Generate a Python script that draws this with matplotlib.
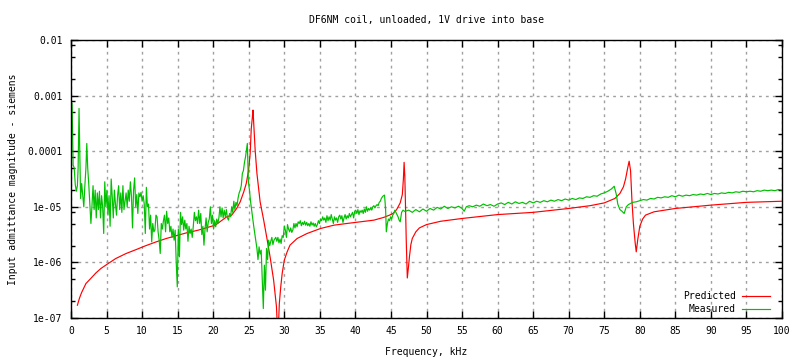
import matplotlib
matplotlib.use("Agg")
import matplotlib.pyplot as plt
import numpy as np
from matplotlib.ticker import LogLocator, NullFormatter, FixedLocator

# predicted admittance: frequency (kHz), log10(siemens)
pred_f = [0.9, 1.2, 1.5, 1.8, 2.1, 2.7, 3.5, 4.2, 5.0, 6.3, 7.75, 9.15, 10.5, 12.0,
          13.4, 14.8, 16.2, 17.9, 20.3, 21.9, 22.6, 23.3, 23.8, 24.3, 24.65, 24.98,
          25.2, 25.35, 25.5, 25.6, 25.7, 25.9, 26.15, 26.6, 27.1, 27.6, 28.0, 28.5,
          28.9, 29.1, 29.3, 29.5, 29.7, 30.0, 30.4, 30.8, 31.8, 33.2, 35.1, 37.0,
          38.8, 40.7, 42.6, 44.0, 44.8, 45.3, 45.8, 46.3, 46.6, 46.75, 46.85, 46.95,
          47.05, 47.15, 47.3, 47.45, 47.6, 47.8, 48.0, 48.5, 49.0, 50.0, 52.0, 55.0,
          60.0, 65.0, 70.0, 73.0, 75.0, 76.5, 77.2, 77.7, 78.0, 78.3, 78.5, 78.7,
          78.9, 79.1, 79.35, 79.5, 79.7, 80.0, 80.4, 80.8, 82.0, 85.0, 90.0, 95.0, 100.0]
pred_log = [-6.77, -6.64, -6.54, -6.46, -6.38, -6.30, -6.19, -6.11, -6.04, -5.93, -5.84,
            -5.77, -5.70, -5.63, -5.57, -5.52, -5.47, -5.42, -5.33, -5.18, -5.15, -5.03,
            -4.91, -4.73, -4.58, -4.34, -4.04, -3.60, -3.40, -3.26, -3.50, -3.98, -4.40,
            -4.91, -5.24, -5.60, -5.90, -6.32, -6.80, -7.40, -6.74, -6.44, -6.20, -5.96,
            -5.81, -5.69, -5.57, -5.48, -5.39, -5.33, -5.30, -5.27, -5.24, -5.19, -5.15,
            -5.12, -5.05, -4.93, -4.78, -4.50, -4.20, -4.45, -5.00, -5.60, -6.28, -6.10,
            -5.90, -5.68, -5.57, -5.45, -5.38, -5.32, -5.26, -5.21, -5.14, -5.10, -5.03,
            -4.98, -4.93, -4.85, -4.76, -4.64, -4.50, -4.30, -4.18, -4.35, -4.90, -5.30,
            -5.65, -5.81, -5.60, -5.35, -5.22, -5.15, -5.09, -5.03, -4.97, -4.92, -4.90]

# measured admittance: frequency (kHz), log10(siemens)
meas_f = [0.15, 0.3, 0.45, 0.6, 0.75, 0.9, 1.0, 1.13, 1.25, 1.35, 1.5, 1.65, 1.8,
          1.95, 2.1, 2.22, 2.35, 2.5, 2.65, 2.8, 2.95, 3.1, 3.25, 3.4, 3.55, 3.7, 3.85,
          4.0, 4.15, 4.3, 4.45, 4.6, 4.75, 4.9, 5.05, 5.2, 5.35, 5.5, 5.65, 5.8, 5.95,
          6.1, 6.25, 6.4, 6.55, 6.7, 6.85, 7.0, 7.15, 7.3, 7.45, 7.6, 7.75, 7.9, 8.05,
          8.2, 8.35, 8.5, 8.65, 8.8, 8.95, 9.1, 9.25, 9.4, 9.55, 9.7, 9.85, 10.0, 10.15,
          10.3, 10.45, 10.6, 10.75, 10.9, 11.05, 11.2, 11.35, 11.5, 11.65, 11.8, 11.95,
          12.1, 12.25, 12.4, 12.55, 12.7, 12.85, 13.0, 13.15, 13.3, 13.45, 13.6, 13.75,
          13.9, 14.05, 14.2, 14.35, 14.5, 14.65, 14.8, 14.95, 15.1, 15.25, 15.4, 15.55,
          15.7, 15.85, 16.0, 16.15, 16.3, 16.45, 16.6, 16.75, 16.9, 17.05, 17.2, 17.35,
          17.5, 17.65, 17.8, 17.95, 18.1, 18.25, 18.4, 18.55, 18.7, 18.85, 19.0, 19.15,
          19.3, 19.45, 19.6, 19.75, 19.9, 20.05, 20.2, 20.35, 20.5, 20.65, 20.8, 20.95,
          21.1, 21.25, 21.4, 21.55, 21.7, 21.85, 22.0, 22.15, 22.3, 22.45, 22.6, 22.75,
          22.9, 23.05, 23.2, 23.35, 23.5, 23.65, 23.8, 23.95, 24.1, 24.25, 24.4, 24.55,
          24.7, 24.8, 24.95, 25.1, 25.25, 25.4, 25.55, 25.7, 25.85, 26.0, 26.15, 26.3,
          26.45, 26.6, 26.75, 26.9, 27.05, 27.2, 27.35, 27.5, 27.65, 27.8, 27.95, 28.1,
          28.25, 28.4, 28.55, 28.8, 28.95, 29.1, 29.25, 29.4, 29.55, 29.7, 29.85, 30.0,
          30.15, 30.3, 30.45, 30.6, 30.75, 30.9, 31.05, 31.2, 31.35, 31.5, 31.65, 31.8,
          31.95, 32.1, 32.25, 32.4, 32.55, 32.7, 32.85, 33.0, 33.15, 33.3, 33.45, 33.6,
          33.75, 33.9, 34.05, 34.2, 34.35, 34.5, 34.65, 34.8, 34.95, 35.1, 35.25, 35.4,
          35.55, 35.7, 35.85, 36.0, 36.15, 36.3, 36.45, 36.6, 36.75, 36.9, 37.05, 37.2,
          37.35, 37.5, 37.65, 37.8, 37.95, 38.1, 38.25, 38.4, 38.55, 38.7, 38.85, 39.0,
          39.15, 39.3, 39.45, 39.6, 39.75, 39.9, 40.05, 40.2, 40.35, 40.5, 40.65, 40.8,
          40.95, 41.1, 41.25, 41.4, 41.55, 41.7, 41.85, 42.0, 42.15, 42.3, 42.45, 42.6,
          42.75, 42.9, 43.05, 43.2, 43.35, 43.5, 43.65, 43.8, 43.95, 44.1, 44.25, 44.35,
          44.5, 44.65, 44.8, 44.95, 45.1, 45.25, 45.4, 45.55, 45.7, 45.85, 46.0, 46.15,
          46.3, 46.5, 46.7, 46.9, 47.0, 47.5, 48.0, 48.5, 49.0, 49.5, 50.0, 50.5, 51.0,
          51.5, 52.0, 52.5, 53.0, 53.5, 54.0, 54.5, 55.0, 55.3, 55.6, 56.0, 56.5, 57.0,
          57.5, 58.0, 58.5, 59.0, 59.5, 60.0, 60.5, 61.0, 61.5, 62.0, 62.5, 63.0, 63.5,
          64.0, 64.5, 65.0, 65.5, 66.0, 66.5, 67.0, 67.5, 68.0, 68.5, 69.0, 69.5, 70.0,
          70.5, 71.0, 71.5, 72.0, 72.5, 73.0, 73.5, 74.0, 74.5, 75.0, 75.5, 76.0, 76.4,
          76.7, 76.9, 77.2, 77.5, 77.8, 78.1, 78.4, 78.7, 79.0, 79.5, 80.0, 80.5, 81.0,
          81.5, 82.0, 82.5, 83.0, 83.5, 84.0, 84.5, 85.0, 85.5, 86.0, 86.5, 87.0, 87.5,
          88.0, 88.5, 89.0, 89.5, 90.0, 90.5, 91.0, 91.5, 92.0, 92.5, 93.0, 93.5, 94.0,
          94.5, 95.0, 95.5, 96.0, 96.5, 97.0, 97.5, 98.0, 98.5, 99.0, 99.5, 100.0]
meas_log = [-3.14, -4.25, -4.30, -4.60, -4.72, -4.62, -4.30, -3.23, -4.10, -4.85,
            -4.58, -4.80, -5.00, -4.62, -4.30, -3.86, -4.30, -4.60, -4.95, -5.30, -4.98,
            -4.62, -5.05, -4.70, -5.20, -4.75, -5.05, -4.72, -5.20, -4.80, -5.00, -5.48,
            -4.55, -5.00, -4.70, -5.15, -4.80, -5.35, -4.50, -4.82, -5.20, -4.70, -4.95,
            -5.15, -4.80, -4.62, -5.05, -4.75, -5.10, -4.62, -5.05, -4.90, -4.75, -5.00,
            -4.70, -4.90, -4.55, -4.80, -5.38, -4.70, -4.48, -5.00, -4.78, -5.12, -4.75,
            -4.82, -4.74, -4.90, -4.80, -4.95, -5.48, -4.65, -5.00, -4.95, -5.40, -5.15,
            -5.63, -5.30, -5.45, -5.42, -5.15, -5.18, -5.45, -5.60, -5.84, -5.30, -5.40,
            -5.25, -5.15, -5.45, -5.08, -5.30, -5.20, -5.45, -5.35, -5.55, -5.40, -5.60,
            -5.42, -6.00, -6.44, -5.40, -5.90, -5.10, -5.32, -5.18, -5.42, -5.24, -5.40,
            -5.30, -5.62, -5.35, -5.48, -5.40, -5.55, -5.35, -5.10, -5.25, -5.18, -5.30,
            -5.06, -5.30, -5.12, -5.50, -5.35, -5.69, -5.40, -5.20, -5.45, -5.28, -5.22,
            -5.00, -5.30, -5.15, -5.40, -5.25, -5.36, -5.22, -5.30, -5.20, -5.00, -5.18,
            -5.02, -5.20, -5.06, -5.18, -5.05, -5.20, -5.24, -5.12, -5.18, -5.00, -5.10,
            -4.90, -5.05, -4.92, -4.98, -4.84, -4.75, -4.70, -4.62, -4.40, -4.35, -4.20,
            -4.10, -3.95, -3.86, -4.55, -4.70, -4.90, -5.05, -5.20, -5.35, -5.48, -5.60,
            -5.75, -5.95, -5.72, -5.85, -5.78, -6.30, -6.83, -6.05, -6.50, -5.75, -5.95,
            -5.60, -5.70, -5.62, -5.55, -5.68, -5.60, -5.55, -5.62, -5.55, -5.65, -5.58,
            -5.66, -5.52, -5.55, -5.35, -5.42, -5.55, -5.32, -5.40, -5.45, -5.38, -5.46,
            -5.42, -5.30, -5.38, -5.30, -5.36, -5.27, -5.30, -5.25, -5.34, -5.28, -5.32,
            -5.26, -5.33, -5.28, -5.34, -5.30, -5.35, -5.27, -5.33, -5.29, -5.35, -5.30,
            -5.36, -5.32, -5.25, -5.30, -5.22, -5.25, -5.18, -5.24, -5.20, -5.28, -5.16,
            -5.25, -5.18, -5.24, -5.14, -5.22, -5.30, -5.18, -5.24, -5.20, -5.28, -5.18,
            -5.15, -5.22, -5.16, -5.28, -5.20, -5.14, -5.22, -5.16, -5.20, -5.12, -5.18,
            -5.14, -5.10, -5.20, -5.08, -5.06, -5.12, -5.05, -5.14, -5.07, -5.10, -5.06,
            -5.12, -5.04, -5.10, -5.00, -5.08, -5.03, -5.06, -5.02, -5.06, -5.00, -4.98,
            -5.02, -4.98, -4.96, -4.98, -4.92, -4.90, -4.85, -4.82, -4.80, -4.79, -5.05,
            -5.45, -5.30, -5.22, -5.25, -5.18, -5.22, -5.15, -5.12, -5.06, -5.10, -5.14,
            -5.18, -5.24, -5.27, -5.10, -5.06, -5.08, -5.08, -5.06, -5.10, -5.05, -5.09,
            -5.04, -5.08, -5.03, -5.06, -5.01, -5.04, -4.99, -5.03, -5.00, -5.02, -4.99,
            -5.03, -5.08, -5.00, -4.98, -5.00, -4.97, -4.99, -4.95, -4.98, -4.96, -4.99,
            -4.95, -4.93, -4.96, -4.92, -4.95, -4.91, -4.94, -4.92, -4.95, -4.90, -4.93,
            -4.90, -4.92, -4.89, -4.91, -4.88, -4.90, -4.87, -4.89, -4.86, -4.88, -4.85,
            -4.87, -4.84, -4.85, -4.82, -4.83, -4.80, -4.81, -4.77, -4.75, -4.72, -4.68,
            -4.63, -4.78, -4.95, -5.05, -5.08, -5.12, -5.00, -4.96, -4.94, -4.92, -4.91,
            -4.89, -4.87, -4.88, -4.85, -4.86, -4.83, -4.84, -4.82, -4.83, -4.80, -4.82,
            -4.79, -4.81, -4.79, -4.80, -4.78, -4.79, -4.77, -4.78, -4.76, -4.78, -4.76,
            -4.77, -4.75, -4.76, -4.74, -4.75, -4.73, -4.74, -4.72, -4.73, -4.72, -4.73,
            -4.71, -4.72, -4.70, -4.71, -4.70, -4.71, -4.69, -4.70]

x_ticks = list(range(0, 101, 5))
y_ticks = [1e-7, 1e-6, 1e-5, 1e-4, 1e-3, 1e-2]
y_labels = ["1e-07", "1e-06", "1e-05", "0.0001", "0.001", "0.01"]

plt.rcParams['font.family'] = ['DejaVu Sans Mono']
plt.rcParams['font.size'] = 7

fig = plt.figure(figsize=(8, 3.6), dpi=100)
ax = fig.add_axes([71 / 800, 1 - 318 / 360, 711 / 800, 278 / 360])

ax.plot(pred_f, 10 ** np.array(pred_log), color='#ff0000', lw=0.85, label='Predicted')
ax.plot(meas_f, 10 ** np.array(meas_log), color='#00c000', lw=0.85, label='Measured')

ax.set_yscale('log')
ax.set_xlim(0, 100)
ax.set_ylim(1e-7, 1e-2)
ax.set_xticks(x_ticks)
ax.set_xticklabels([str(t) for t in x_ticks])
ax.yaxis.set_major_locator(FixedLocator(y_ticks))
ax.set_yticklabels(y_labels)
ax.yaxis.set_minor_locator(LogLocator(base=10, subs=(2.0, 5.0, 8.0)))
ax.yaxis.set_minor_formatter(NullFormatter())

ax.tick_params(which='both', direction='in', top=True, right=True, colors='black')
ax.tick_params(which='major', length=5, width=1, pad=6)
ax.tick_params(which='minor', length=3, width=1)
ax.tick_params(axis='x', which='minor', top=False, bottom=False)

ax.grid(True, which='major', color='#a0a0a0', linestyle=(0, (2, 3)), lw=1)
for s in ax.spines.values():
    s.set_linewidth(1)
    s.set_color('black')

ax.set_title('DF6NM coil, unloaded, 1V drive into base', fontsize=7, pad=12)
ax.set_xlabel('Frequency, kHz', labelpad=8)
ax.set_ylabel('Input admittance magnitude - siemens', labelpad=6.5)

ax.legend(loc='lower right', bbox_to_anchor=(0.9885, 0.0), frameon=False,
          markerfirst=False, handlelength=2.9, handletextpad=0.6,
          labelspacing=0.3, borderaxespad=0.0)

fig.savefig('out.png', dpi=100)
